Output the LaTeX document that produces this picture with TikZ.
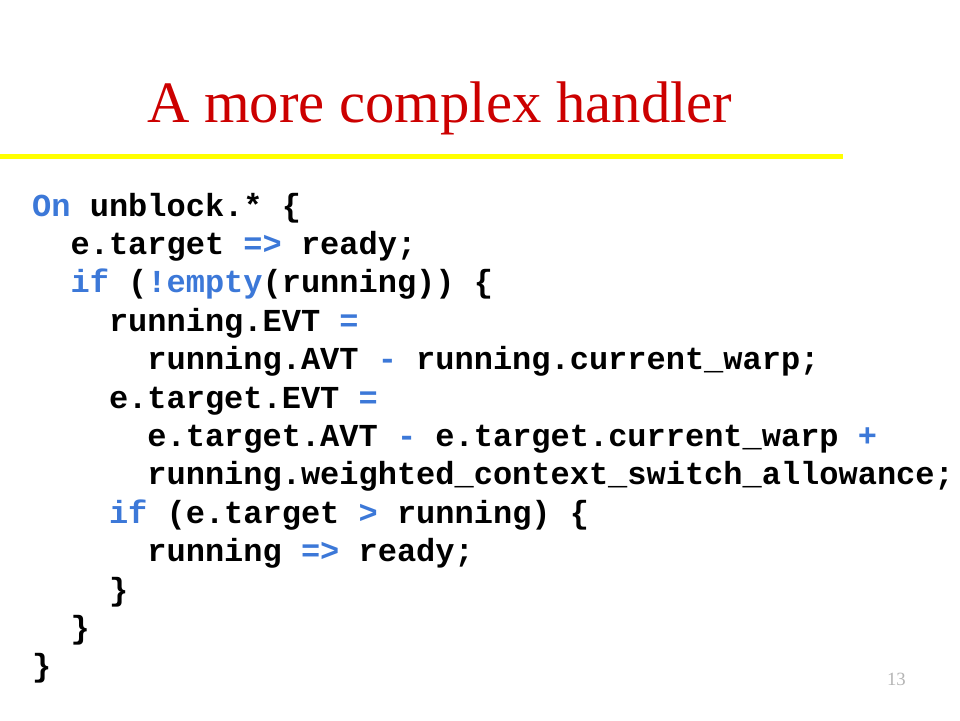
\documentclass[tikz,border=0pt]{standalone}
\usepackage{fontspec}
\setmainfont{Liberation Serif}
\newfontfamily\codefont{Liberation Mono}
\definecolor{titlered}{HTML}{CC0000}
\definecolor{kwblue}{HTML}{3C78D8}
\definecolor{rulecol}{HTML}{FFFF00}
\definecolor{numgray}{HTML}{B4B4B4}
\newcommand\kw[1]{\textcolor{kwblue}{#1}}
\tikzset{
  codeline/.style={anchor=base west, inner sep=0pt, font=\codefont\bfseries\fontsize{32}{38.4}\selectfont},
  titletext/.style={anchor=base west, inner sep=0pt, text=titlered, font=\fontsize{58.7}{64}\selectfont},
  pagenum/.style={anchor=base east, inner sep=0pt, text=numgray, font=\fontsize{18.7}{20}\selectfont}
}
\begin{document}
\begin{tikzpicture}[x=1pt,y=-1pt]
\useasboundingbox[fill=white] (0,0) rectangle (960,720);
\node[titletext] (title) at (147,122) {A more complex handler};
\fill[rulecol] (0,154) rectangle (843,159);
\def\cw{19.2}
\def\lh{38.4}
\node[codeline] (l1)  at (32+0*\cw, 216+0*\lh)  {\kw{On} unblock.* \{};
\node[codeline] (l2)  at (32+2*\cw, 216+1*\lh)  {e.target \kw{=>} ready;};
\node[codeline] (l3)  at (32+2*\cw, 216+2*\lh)  {\kw{if} (\kw{!empty}(running)) \{};
\node[codeline] (l4)  at (32+4*\cw, 216+3*\lh)  {running.EVT \kw{=}};
\node[codeline] (l5)  at (32+6*\cw, 216+4*\lh)  {running.AVT \kw{-} running.current\_warp;};
\node[codeline] (l6)  at (32+4*\cw, 216+5*\lh)  {e.target.EVT \kw{=}};
\node[codeline] (l7)  at (32+6*\cw, 216+6*\lh)  {e.target.AVT \kw{-} e.target.current\_warp \kw{+}};
\node[codeline] (l8)  at (32+6*\cw, 216+7*\lh)  {running.weighted\_context\_switch\_allowance;};
\node[codeline] (l9)  at (32+4*\cw, 216+8*\lh)  {\kw{if} (e.target \kw{>} running) \{};
\node[codeline] (l10) at (32+6*\cw, 216+9*\lh)  {running \kw{=>} ready;};
\node[codeline] (l11) at (32+4*\cw, 216+10*\lh) {\}};
\node[codeline] (l12) at (32+2*\cw, 216+11*\lh) {\}};
\node[codeline] (l13) at (32+0*\cw, 216+12*\lh) {\}};
\node[pagenum] (pnum) at (906,685) {13};
\end{tikzpicture}
\end{document}
